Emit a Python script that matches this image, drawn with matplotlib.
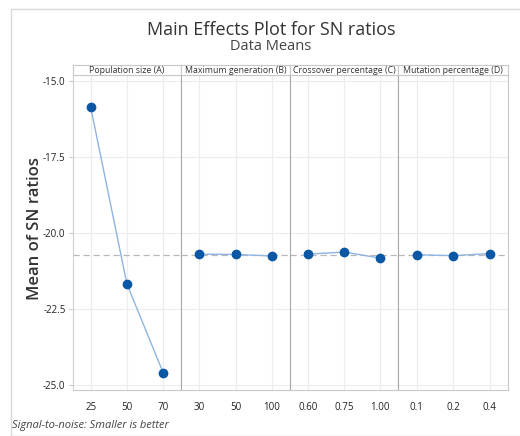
import matplotlib.pyplot as plt
from matplotlib.patches import Rectangle

# niveaux des facteurs et moyennes des rapports S/N
facteurs = ['Population size (A)', 'Maximum generation (B)',
            'Crossover percentage (C)', 'Mutation percentage (D)']
niveaux_A = ['25', '50', '70']
niveaux_B = ['30', '50', '100']
niveaux_C = ['0.60', '0.75', '1.00']
niveaux_D = ['0.1', '0.2', '0.4']
sn_A = [-15.86, -21.68, -24.60]
sn_B = [-20.70, -20.71, -20.76]
sn_C = [-20.70, -20.63, -20.83]
sn_D = [-20.72, -20.75, -20.68]
y_ticks = [-15.0, -17.5, -20.0, -22.5, -25.0]

niveaux = [niveaux_A, niveaux_B, niveaux_C, niveaux_D]
valeurs = [sn_A, sn_B, sn_C, sn_D]
moyenne = sum(sn_A + sn_B + sn_C + sn_D) / 12

W, H = 520, 436
fig = plt.figure(figsize=(W / 100, H / 100), dpi=100)
plt.rcParams['font.family'] = ['Open Sans', 'DejaVu Sans']

# cadre exterieur
fig.patches.append(Rectangle((11 / W, 0), 1, 1 - 9 / H, transform=fig.transFigure,
                             fill=False, edgecolor='#d9d9d9', lw=1))

fig.text(271 / W, 1 - 30 / H, 'Main Effects Plot for SN ratios', ha='center', va='center',
         fontsize=13, color='#333333')
fig.text(271 / W, 1 - 47 / H, 'Data Means', ha='center', va='center',
         fontsize=10.5, color='#444444')
fig.text(12 / W, 1 - 425 / H, 'Signal-to-noise: Smaller is better', ha='left', va='center',
         fontsize=8, style='italic', color='#444444')
fig.text(35 / W, 1 - 228 / H, 'Mean of SN ratios', ha='center', va='center', rotation=90,
         fontsize=12, color='#333333', fontweight='semibold')

x_bords = [72.5, 181.3, 290, 398.3, 508]
haut, bas, strip = 75, 389.5, 65
axes = []
for i in range(4):
    x0, x1 = x_bords[i], x_bords[i + 1]
    ax = fig.add_axes([x0 / W, 1 - bas / H, (x1 - x0) / W, (bas - haut) / H])
    pos = [1, 2, 3]
    ax.plot(pos, valeurs[i], color='#8fb4e0', lw=1, zorder=3)
    ax.plot(pos, valeurs[i], 'o', color='#0a57a6', ms=6, zorder=4)
    ax.axhline(moyenne, color='#b8b8b8', ls=(0, (5, 3)), lw=0.9, zorder=2)
    ax.set_xlim(0.5, 3.5)
    ax.set_ylim(-25.15, -14.81)
    ax.set_xticks(pos)
    ax.set_xticklabels(niveaux[i])
    ax.set_yticks(y_ticks)
    ax.grid(True, color='#ececec', lw=0.8, zorder=0)
    ax.set_axisbelow(True)
    ax.tick_params(axis='x', length=0, labelsize=7, pad=9, colors='#222222')
    for s in ax.spines.values():
        s.set_color('#c8c8c8')
    if i == 0:
        ax.set_yticklabels([f'{v:.1f}' for v in y_ticks])
        ax.tick_params(axis='y', length=3, labelsize=7, colors='#222222', pad=2)
        ax.tick_params(axis='y', color='#c8c8c8')
        ax.spines['left'].set_color('#d0d0d0')
    else:
        ax.tick_params(axis='y', length=0, labelleft=False)
        ax.spines['left'].set_color('#a8a8a8')
    # bandeau du facteur
    sax = fig.add_axes([x0 / W, 1 - haut / H, (x1 - x0) / W, (haut - strip) / H])
    sax.set_xticks([])
    sax.set_yticks([])
    for s in sax.spines.values():
        s.set_color('#c8c8c8')
    sax.text(0.5, 0.45, facteurs[i], ha='center', va='center', fontsize=6.3,
             color='#333333', transform=sax.transAxes)
    axes.append(ax)

fig.savefig('out.png', dpi=100)
